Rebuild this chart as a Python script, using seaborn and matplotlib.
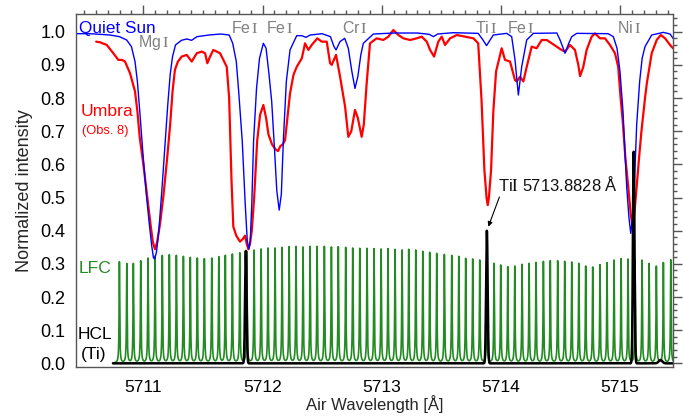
import numpy as np
import pandas as pd
import matplotlib
matplotlib.use("Agg")
import matplotlib.pyplot as plt
from matplotlib.ticker import MultipleLocator
import seaborn as sns

# ---------------- data ----------------
qs_wl = [5710.440, 5710.550, 5710.640, 5710.720, 5710.800, 5710.860, 5710.900, 5710.930,
         5710.950, 5710.970, 5710.995, 5711.025, 5711.050, 5711.070, 5711.085, 5711.095,
         5711.110, 5711.130, 5711.155, 5711.180, 5711.205, 5711.225, 5711.245, 5711.270,
         5711.320, 5711.365, 5711.405, 5711.450, 5711.550, 5711.650, 5711.720, 5711.750,
         5711.780, 5711.800, 5711.830, 5711.855, 5711.872, 5711.885, 5711.897, 5711.910,
         5711.925, 5711.950, 5711.975, 5712.007, 5712.030, 5712.055, 5712.077, 5712.100,
         5712.120, 5712.140, 5712.158, 5712.175, 5712.200, 5712.231, 5712.287, 5712.330,
         5712.365, 5712.400, 5712.500, 5712.570, 5712.600, 5712.617, 5712.650, 5712.690,
         5712.720, 5712.750, 5712.776, 5712.800, 5712.825, 5712.846, 5712.930, 5713.100,
         5713.300, 5713.400, 5713.434, 5713.470, 5713.600, 5713.810, 5713.850, 5713.880,
         5713.910, 5713.937, 5714.050, 5714.091, 5714.119, 5714.147, 5714.175, 5714.217,
         5714.273, 5714.470, 5714.497, 5714.539, 5714.570, 5714.595, 5714.637, 5714.900,
         5714.944, 5714.975, 5715.000, 5715.025, 5715.056, 5715.075, 5715.090, 5715.105,
         5715.120, 5715.140, 5715.165, 5715.186, 5715.210, 5715.266, 5715.364, 5715.420,
         5715.445]
qs_int = [0.994, 0.994, 0.992, 0.990, 0.985, 0.975, 0.955, 0.910,
          0.850, 0.760, 0.640, 0.510, 0.420, 0.355, 0.318, 0.315,
          0.335, 0.400, 0.520, 0.650, 0.780, 0.870, 0.925, 0.960,
          0.974, 0.978, 0.974, 0.985, 0.990, 0.993, 0.990, 0.965,
          0.910, 0.820, 0.670, 0.480, 0.370, 0.345, 0.370, 0.480,
          0.670, 0.830, 0.920, 0.965, 0.950, 0.870, 0.790, 0.650,
          0.520, 0.462, 0.510, 0.673, 0.850, 0.945, 0.988, 0.988,
          0.983, 0.990, 0.994, 0.985, 0.955, 0.945, 0.970, 0.980,
          0.950, 0.880, 0.829, 0.865, 0.930, 0.965, 0.993, 0.996,
          0.996, 0.992, 0.985, 0.993, 0.997, 0.995, 0.975, 0.958,
          0.975, 0.990, 0.995, 0.985, 0.915, 0.809, 0.894, 0.975,
          0.995, 0.996, 0.975, 0.935, 0.965, 0.985, 0.995, 0.994,
          0.985, 0.950, 0.880, 0.760, 0.533, 0.440, 0.392, 0.440,
          0.533, 0.720, 0.850, 0.920, 0.955, 0.990, 0.998, 0.993,
          0.980]

um_wl = [5710.604, 5710.637, 5710.693, 5710.748, 5710.790, 5710.819, 5710.846, 5710.888,
         5710.930, 5710.950, 5710.970, 5711.000, 5711.030, 5711.060, 5711.080, 5711.098,
         5711.115, 5711.140, 5711.170, 5711.200, 5711.225, 5711.245, 5711.265, 5711.290,
         5711.322, 5711.364, 5711.406, 5711.448, 5711.490, 5711.518, 5711.537, 5711.560,
         5711.587, 5711.644, 5711.700, 5711.720, 5711.740, 5711.755, 5711.780, 5711.811,
         5711.835, 5711.853, 5711.868, 5711.881, 5711.895, 5711.910, 5711.930, 5711.955,
         5711.980, 5712.007, 5712.030, 5712.050, 5712.080, 5712.110, 5712.130, 5712.150,
         5712.170, 5712.189, 5712.231, 5712.260, 5712.287, 5712.330, 5712.357, 5712.385,
         5712.413, 5712.460, 5712.497, 5712.539, 5712.567, 5712.581, 5712.617, 5712.651,
         5712.693, 5712.720, 5712.745, 5712.776, 5712.800, 5712.832, 5712.850, 5712.874,
         5712.902, 5712.958, 5713.014, 5713.056, 5713.098, 5713.140, 5713.182, 5713.238,
         5713.294, 5713.336, 5713.378, 5713.406, 5713.440, 5713.475, 5713.504, 5713.532,
         5713.574, 5713.630, 5713.700, 5713.770, 5713.810, 5713.838, 5713.862, 5713.880,
         5713.890, 5713.900, 5713.918, 5713.937, 5713.960, 5714.007, 5714.035, 5714.077,
         5714.119, 5714.133, 5714.161, 5714.189, 5714.217, 5714.259, 5714.300, 5714.343,
         5714.385, 5714.427, 5714.469, 5714.510, 5714.539, 5714.580, 5714.622, 5714.650,
         5714.665, 5714.692, 5714.720, 5714.762, 5714.790, 5714.832, 5714.874, 5714.916,
         5714.958, 5714.985, 5715.005, 5715.022, 5715.045, 5715.069, 5715.090, 5715.104,
         5715.120, 5715.140, 5715.160, 5715.180, 5715.210, 5715.225, 5715.266, 5715.308,
         5715.342, 5715.378, 5715.420, 5715.445]
um_int = [0.970, 0.968, 0.960, 0.935, 0.915, 0.915, 0.910, 0.875,
          0.820, 0.760, 0.680, 0.600, 0.510, 0.420, 0.365, 0.344,
          0.365, 0.420, 0.510, 0.620, 0.720, 0.820, 0.885, 0.910,
          0.925, 0.930, 0.910, 0.935, 0.940, 0.935, 0.905, 0.925,
          0.945, 0.935, 0.894, 0.800, 0.550, 0.412, 0.385, 0.367,
          0.375, 0.385, 0.360, 0.344, 0.360, 0.400, 0.500, 0.670,
          0.750, 0.779, 0.740, 0.690, 0.660, 0.645, 0.640, 0.655,
          0.660, 0.673, 0.814, 0.870, 0.894, 0.920, 0.965, 0.945,
          0.960, 0.980, 0.970, 0.970, 0.905, 0.900, 0.930, 0.864,
          0.774, 0.683, 0.700, 0.764, 0.740, 0.683, 0.720, 0.844,
          0.965, 0.980, 0.975, 0.985, 1.005, 0.990, 0.980, 0.975,
          0.980, 0.985, 0.970, 0.945, 0.925, 0.970, 0.985, 0.960,
          0.980, 0.990, 0.985, 0.980, 0.965, 0.794, 0.583, 0.500,
          0.477, 0.500, 0.583, 0.760, 0.880, 0.950, 0.915, 0.910,
          0.854, 0.850, 0.864, 0.850, 0.894, 0.955, 0.950, 0.975,
          0.975, 0.965, 0.955, 0.945, 0.940, 0.960, 0.945, 0.900,
          0.866, 0.894, 0.945, 0.985, 0.995, 0.980, 0.980, 0.960,
          0.935, 0.894, 0.800, 0.734, 0.620, 0.533, 0.450, 0.417,
          0.450, 0.533, 0.620, 0.700, 0.800, 0.844, 0.935, 0.975,
          0.990, 0.980, 0.960, 0.950]

lfc_center = [5710.799, 5710.861, 5710.916, 5710.978, 5711.039, 5711.098, 5711.159, 5711.218,
              5711.277, 5711.336, 5711.394, 5711.453, 5711.512, 5711.574, 5711.633, 5711.688,
              5711.747, 5711.809, 5711.868, 5711.929, 5711.988, 5712.046, 5712.105, 5712.164,
              5712.223, 5712.281, 5712.340, 5712.399, 5712.458, 5712.519, 5712.578, 5712.636,
              5712.698, 5712.757, 5712.816, 5712.877, 5712.936, 5712.995, 5713.053, 5713.112,
              5713.171, 5713.227, 5713.286, 5713.345, 5713.403, 5713.462, 5713.526, 5713.588,
              5713.647, 5713.705, 5713.764, 5713.823, 5713.882, 5713.943, 5713.999, 5714.058,
              5714.117, 5714.178, 5714.237, 5714.295, 5714.357, 5714.415, 5714.477, 5714.536,
              5714.595, 5714.654, 5714.712, 5714.771, 5714.832, 5714.891, 5714.950, 5715.009,
              5715.067, 5715.126, 5715.185, 5715.244, 5715.305, 5715.364, 5715.426]
lfc_height = [0.305, 0.299, 0.299, 0.307, 0.315, 0.321, 0.323, 0.325,
              0.323, 0.320, 0.317, 0.315, 0.313, 0.315, 0.319, 0.323,
              0.327, 0.331, 0.335, 0.339, 0.342, 0.345, 0.345, 0.347,
              0.349, 0.350, 0.348, 0.350, 0.350, 0.350, 0.348, 0.349,
              0.347, 0.345, 0.344, 0.344, 0.343, 0.342, 0.343, 0.341,
              0.339, 0.341, 0.339, 0.335, 0.332, 0.329, 0.326, 0.323,
              0.320, 0.314, 0.312, 0.309, 0.305, 0.299, 0.294, 0.289,
              0.291, 0.296, 0.299, 0.302, 0.305, 0.307, 0.307, 0.305,
              0.303, 0.299, 0.291, 0.288, 0.295, 0.301, 0.309, 0.313,
              0.312, 0.311, 0.309, 0.299, 0.291, 0.302, 0.311]

hcl_center = [5711.860, 5713.8828, 5715.115, 5715.340]
hcl_height = [0.339, 0.400, 0.638, 0.010]
hcl_sigma = [0.0065, 0.0065, 0.0065, 0.015]

line_labels = ["Mg", "Fe", "Fe", "Cr", "Ti", "Fe", "Ni"]
line_label_wl = [5711.086, 5711.851, 5712.147, 5712.776, 5713.874, 5714.168, 5715.076]
line_label_y = [0.967, 1.011, 1.011, 1.011, 1.011, 1.011, 1.011]

# ---------------- rendering grid for the calibration spectra ----------------
grid = np.arange(5710.745, 5715.4451, 0.0005)
lfc_gamma = 0.0030
lfc_flux = np.zeros_like(grid)
for c, h in zip(lfc_center, lfc_height):
    lfc_flux += h * lfc_gamma**2 / ((grid - c)**2 + lfc_gamma**2)
hcl_flux = np.zeros_like(grid)
for c, h, s in zip(hcl_center, hcl_height, hcl_sigma):
    hcl_flux += h * np.exp(-0.5 * ((grid - c) / s)**2)

qs = pd.DataFrame({"wl": qs_wl, "I": qs_int})
um = pd.DataFrame({"wl": um_wl, "I": um_int})
cal = pd.DataFrame({"wl": grid, "lfc": lfc_flux, "hcl": hcl_flux})

# ---------------- figure ----------------
sns.set_theme(style="white")
plt.rcParams["font.family"] = ["Liberation Sans", "DejaVu Sans"]
plt.rcParams["mathtext.fontset"] = "stix"

fig = plt.figure(figsize=(6.83, 4.20), dpi=100)
ax = fig.add_axes([0.1113, 0.1262, 0.8741, 0.8405])

GREEN = "#228B22"
sns.lineplot(data=cal, x="wl", y="lfc", ax=ax, color=GREEN, lw=1.2,
             estimator=None, sort=False)
sns.lineplot(data=um, x="wl", y="I", ax=ax, color="#FF0000", lw=1.6,
             estimator=None, sort=False)
sns.lineplot(data=qs, x="wl", y="I", ax=ax, color="#0000FF", lw=1.0,
             estimator=None, sort=False)
sns.lineplot(data=cal, x="wl", y="hcl", ax=ax, color="black", lw=1.8,
             estimator=None, sort=False)

ax.set_xlim(5710.435, 5715.445)
ax.set_ylim(-0.011, 1.0534)

ax.xaxis.set_major_locator(MultipleLocator(1))
ax.xaxis.set_minor_locator(MultipleLocator(0.1))
ax.yaxis.set_major_locator(MultipleLocator(0.1))
ax.yaxis.set_minor_locator(MultipleLocator(0.02))
ax.xaxis.set_major_formatter(matplotlib.ticker.FormatStrFormatter("%d"))
ax.yaxis.set_major_formatter(matplotlib.ticker.FormatStrFormatter("%.1f"))

FRAME = "#555555"
for s in ax.spines.values():
    s.set_color(FRAME)
    s.set_linewidth(1.0)
ax.tick_params(which="both", direction="out", top=True, right=True,
               color=FRAME, width=1.0, labelsize=13, labelcolor="black")
ax.tick_params(which="major", length=6.2)
ax.tick_params(which="minor", length=3.2)
ax.tick_params(axis="x", which="major", pad=3, labelsize=12.5)
ax.tick_params(axis="y", which="major", pad=1.5)

ax.set_xlabel("Air Wavelength [Å]", fontsize=12, labelpad=0)
ax.set_ylabel("Normalized intensity", fontsize=13, labelpad=5)

# spectral line identifications
for name, wl, yy in zip(line_labels, line_label_wl, line_label_y):
    ax.text(wl, yy, name + r"$\,\mathrm{I}$", color="#808080", fontsize=11.5,
            ha="center", va="center")

ax.text(5710.461, 1.010, "Quiet Sun", color="#0000FF", fontsize=12.3,
        ha="left", va="center")
ax.text(5710.470, 0.758, "Umbra", color="#FF0000", fontsize=12.6,
        ha="left", va="center")
ax.text(5710.486, 0.700, "(Obs. 8)", color="#FF0000", fontsize=9.3,
        ha="left", va="center")
ax.text(5710.460, 0.286, "LFC", color=GREEN, fontsize=12.6,
        ha="left", va="center")
ax.text(5710.452, 0.086, "HCL", color="black", fontsize=12.5,
        ha="left", va="center")
ax.text(5710.477, 0.028, "(Ti)", color="black", fontsize=12.5,
        ha="left", va="center")

ax.annotate("Ti" + r"$\mathrm{I}$" + " 5713.8828 Å", xy=(5713.895, 0.412),
            xytext=(5713.978, 0.540), fontsize=12, color="#111111",
            ha="left", va="center",
            arrowprops=dict(arrowstyle="-|>", color="black", lw=0.8,
                            mutation_scale=7, shrinkA=0, shrinkB=0,
                            relpos=(0.02, 0.0)))

fig.savefig("out.png", dpi=100)
